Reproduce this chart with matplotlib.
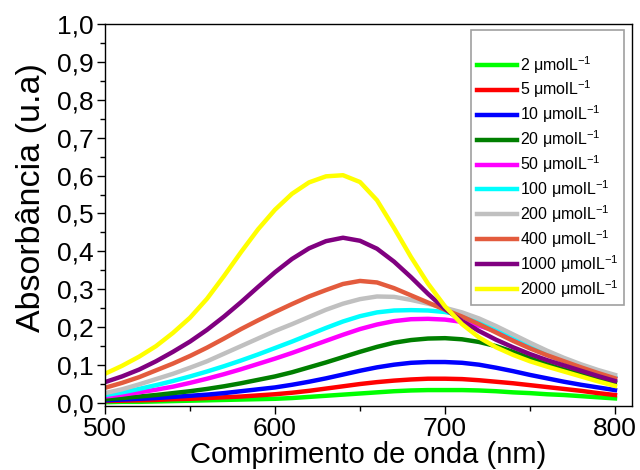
import matplotlib
matplotlib.use("Agg")
import matplotlib.pyplot as plt
from matplotlib.ticker import MultipleLocator, FuncFormatter

plt.rcParams['font.family'] = ['Liberation Sans', 'DejaVu Sans']
plt.rcParams['mathtext.fontset'] = 'custom'
plt.rcParams['mathtext.rm'] = 'Liberation Sans'
plt.rcParams['mathtext.it'] = 'Liberation Sans:italic'

wavelength = list(range(500, 801, 10))

a_2 = [0.002, 0.003, 0.003, 0.004, 0.005, 0.006, 0.007, 0.008, 0.009, 0.010, 0.011,
       0.013, 0.016, 0.019, 0.022, 0.025, 0.028, 0.031, 0.033, 0.034, 0.034,
       0.034, 0.033, 0.031, 0.028, 0.026, 0.023, 0.021, 0.018, 0.015, 0.012]
a_5 = [0.005, 0.006, 0.007, 0.008, 0.010, 0.011, 0.013, 0.015, 0.017, 0.020, 0.023,
       0.027, 0.032, 0.038, 0.044, 0.050, 0.055, 0.059, 0.062, 0.064, 0.064,
       0.063, 0.060, 0.056, 0.052, 0.047, 0.042, 0.037, 0.032, 0.026, 0.021]
a_10 = [0.007, 0.009, 0.011, 0.013, 0.016, 0.019, 0.022, 0.026, 0.031, 0.036, 0.041,
        0.048, 0.056, 0.065, 0.075, 0.085, 0.094, 0.101, 0.106, 0.108, 0.108,
        0.106, 0.101, 0.093, 0.084, 0.074, 0.065, 0.056, 0.048, 0.041, 0.034]
a_20 = [0.010, 0.013, 0.017, 0.021, 0.026, 0.031, 0.037, 0.044, 0.052, 0.061, 0.070,
        0.081, 0.094, 0.107, 0.121, 0.135, 0.148, 0.159, 0.166, 0.170, 0.171,
        0.168, 0.161, 0.150, 0.135, 0.118, 0.102, 0.088, 0.075, 0.064, 0.054]
a_50 = [0.017, 0.022, 0.028, 0.035, 0.043, 0.053, 0.064, 0.076, 0.089, 0.103, 0.117,
        0.132, 0.148, 0.164, 0.180, 0.195, 0.207, 0.216, 0.221, 0.222, 0.220,
        0.214, 0.204, 0.189, 0.170, 0.150, 0.131, 0.113, 0.096, 0.080, 0.065]
a_100 = [0.021, 0.028, 0.037, 0.047, 0.058, 0.070, 0.083, 0.097, 0.112, 0.128, 0.145,
         0.162, 0.180, 0.198, 0.215, 0.229, 0.239, 0.244, 0.245, 0.244, 0.240,
         0.232, 0.218, 0.199, 0.177, 0.156, 0.135, 0.116, 0.099, 0.083, 0.068]
a_200 = [0.026, 0.036, 0.049, 0.063, 0.077, 0.093, 0.110, 0.130, 0.150, 0.170, 0.190,
         0.208, 0.227, 0.246, 0.262, 0.274, 0.281, 0.280, 0.272, 0.262, 0.251,
         0.239, 0.223, 0.203, 0.181, 0.159, 0.138, 0.119, 0.102, 0.087, 0.074]
a_400 = [0.040, 0.053, 0.068, 0.086, 0.104, 0.124, 0.146, 0.170, 0.195, 0.218, 0.240,
         0.261, 0.281, 0.298, 0.314, 0.322, 0.318, 0.303, 0.284, 0.265, 0.246,
         0.228, 0.208, 0.186, 0.164, 0.144, 0.126, 0.110, 0.094, 0.079, 0.065]
a_1000 = [0.055, 0.070, 0.088, 0.110, 0.135, 0.162, 0.193, 0.228, 0.266, 0.306, 0.345,
          0.380, 0.408, 0.427, 0.436, 0.428, 0.407, 0.373, 0.332, 0.288, 0.248,
          0.216, 0.190, 0.167, 0.147, 0.129, 0.113, 0.099, 0.085, 0.071, 0.058]
a_2000 = [0.077, 0.098, 0.122, 0.150, 0.185, 0.225, 0.275, 0.335, 0.398, 0.458, 0.510,
          0.552, 0.582, 0.598, 0.601, 0.583, 0.535, 0.462, 0.385, 0.315, 0.255,
          0.208, 0.173, 0.147, 0.127, 0.110, 0.096, 0.083, 0.070, 0.057, 0.045]

concentrations = ['2', '5', '10', '20', '50', '100', '200', '400', '1000', '2000']
series = [a_2, a_5, a_10, a_20, a_50, a_100, a_200, a_400, a_1000, a_2000]
colors = ['#00ff00', '#ff0000', '#0000ff', '#007f00', '#ff00ff',
          '#00ffff', '#c0c0c0', '#e35b3d', '#800080', '#ffff00']

fig = plt.figure(figsize=(6.4, 4.7), dpi=100)
ax = fig.add_axes([105 / 640, 64 / 470, 527 / 640, 382 / 470])

for conc, vals, col in zip(concentrations, series, colors):
    ax.plot(wavelength, vals, color=col, lw=3.2,
            label=conc + ' μmolL$^{-1}$', solid_joinstyle='round')

ax.set_xlim(500, 810)
ax.set_ylim(-0.008, 1.0)
ax.xaxis.set_major_locator(MultipleLocator(100))
ax.xaxis.set_minor_locator(MultipleLocator(50))
ax.yaxis.set_major_locator(MultipleLocator(0.1))
ax.yaxis.set_minor_locator(MultipleLocator(0.05))
ax.yaxis.set_major_formatter(FuncFormatter(lambda v, p: f"{v:.1f}".replace('.', ',')))

ax.tick_params(which='both', direction='out', top=False, right=False, width=1.0)
ax.tick_params(which='major', length=6, labelsize=19, pad=2)
ax.tick_params(which='minor', length=3.5)
for s in ax.spines.values():
    s.set_linewidth(1.0)

ax.set_xlabel('Comprimento de onda (nm)', fontsize=21, labelpad=0)
ax.set_ylabel('Absorbância (u.a)', fontsize=24.5, labelpad=7)
ax.yaxis.label.set_y(0.545)

leg = ax.legend(loc='upper right', bbox_to_anchor=(0.985, 0.984), borderaxespad=0,
                fontsize=11.5, title=' ', title_fontsize=11.5, frameon=True,
                fancybox=False, edgecolor='#a0a0a0', framealpha=1,
                handlelength=2.5, handletextpad=0.2, labelspacing=0.2,
                borderpad=0.35)
leg.get_frame().set_linewidth(1.2)

fig.savefig('out.png', dpi=100)
